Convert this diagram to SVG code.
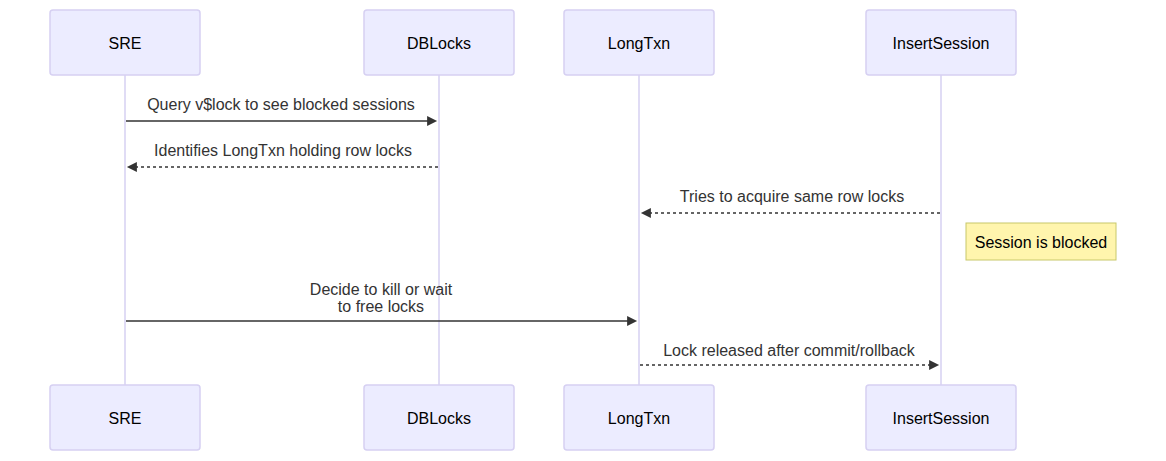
<svg xmlns="http://www.w3.org/2000/svg" width="1166" height="461" viewBox="0 0 1166 461">
<style>
.actor{fill:#ECECFF;stroke:#D6D0F2;stroke-width:1.5}
.life{stroke:#D6D0F2;stroke-width:1.5;fill:none}
.atext{font-family:"Liberation Sans",Arial,sans-serif;font-size:16px;fill:#000;text-anchor:middle;dominant-baseline:central}
.msg{stroke:#333;stroke-width:1.5;fill:none}
.dash{stroke-dasharray:3,3}
.mtext{font-family:"Liberation Sans",Arial,sans-serif;font-size:16px;fill:#333;text-anchor:middle;dominant-baseline:central}
.note{fill:#FFF5AD;stroke:#C8C86A;stroke-width:1}
.ntext{font-family:"Liberation Sans",Arial,sans-serif;font-size:16px;fill:#000;text-anchor:middle;dominant-baseline:central}
</style>
<defs>
<marker id="arrow" markerUnits="userSpaceOnUse" markerWidth="12" markerHeight="12" refX="7.9" refY="5" orient="auto">
<path d="M0,0 L10,5 L0,10 z" fill="#333"/>
</marker>
</defs>
<rect width="1166" height="461" fill="#fff"/>
<g id="lifelines">
<line class="life" x1="125" y1="75" x2="125" y2="385"/>
<line class="life" x1="439" y1="75" x2="439" y2="385"/>
<line class="life" x1="639" y1="75" x2="639" y2="385"/>
<line class="life" x1="941" y1="75" x2="941" y2="385"/>
</g>
<g id="SRE">
<rect class="actor" x="50" y="10" width="150" height="65" rx="3"/>
<text class="atext" x="125" y="43">SRE</text>
</g>
<g id="DBLocks">
<rect class="actor" x="364" y="10" width="150" height="65" rx="3"/>
<text class="atext" x="439" y="43">DBLocks</text>
</g>
<g id="LongTxn">
<rect class="actor" x="564" y="10" width="150" height="65" rx="3"/>
<text class="atext" x="639" y="43">LongTxn</text>
</g>
<g id="InsertSession">
<rect class="actor" x="866" y="10" width="150" height="65" rx="3"/>
<text class="atext" x="941" y="43">InsertSession</text>
</g>
<g id="SRE-bottom">
<rect class="actor" x="50" y="385" width="150" height="65" rx="3"/>
<text class="atext" x="125" y="418">SRE</text>
</g>
<g id="DBLocks-bottom">
<rect class="actor" x="364" y="385" width="150" height="65" rx="3"/>
<text class="atext" x="439" y="418">DBLocks</text>
</g>
<g id="LongTxn-bottom">
<rect class="actor" x="564" y="385" width="150" height="65" rx="3"/>
<text class="atext" x="639" y="418">LongTxn</text>
</g>
<g id="InsertSession-bottom">
<rect class="actor" x="866" y="385" width="150" height="65" rx="3"/>
<text class="atext" x="941" y="418">InsertSession</text>
</g>
<g id="note-blocked">
<rect class="note" x="966" y="223" width="150" height="37"/>
<text class="ntext" x="1041" y="242">Session is blocked</text>
</g>
<g id="connectors">
<line class="msg" x1="126" y1="121" x2="435" y2="121" marker-end="url(#arrow)"/>
<text class="mtext" x="281" y="104">Query v$lock to see blocked sessions</text>
<line class="msg dash" x1="438" y1="167" x2="129" y2="167" marker-end="url(#arrow)"/>
<text class="mtext" x="283" y="150">Identifies LongTxn holding row locks</text>
<line class="msg dash" x1="940" y1="213" x2="643" y2="213" marker-end="url(#arrow)"/>
<text class="mtext" x="792" y="196">Tries to acquire same row locks</text>
<line class="msg" x1="126" y1="321" x2="635" y2="321" marker-end="url(#arrow)"/>
<text class="mtext" x="381" y="289">Decide to kill or wait</text>
<text class="mtext" x="381" y="306">to free locks</text>
<line class="msg dash" x1="640" y1="365" x2="937" y2="365" marker-end="url(#arrow)"/>
<text class="mtext" x="789" y="350">Lock released after commit/rollback</text>
</g>
</svg>
